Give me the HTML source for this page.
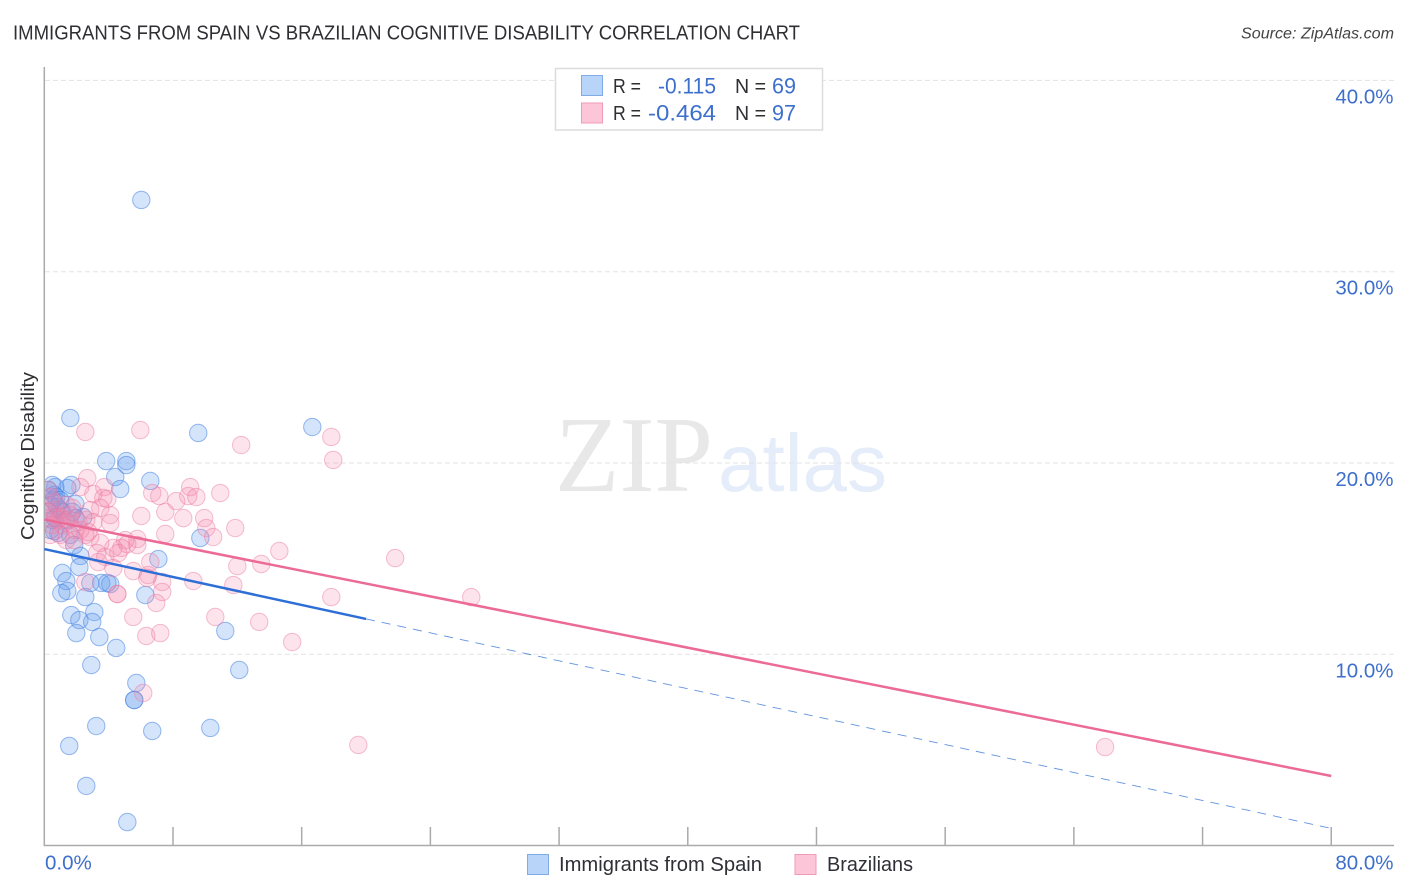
<!DOCTYPE html>
<html lang="en">
<head>
<meta charset="utf-8">
<title>Immigrants from Spain vs Brazilian Cognitive Disability Correlation Chart</title>
<style>
html,body{margin:0;padding:0;background:#fff;width:1406px;height:892px;overflow:hidden}
svg{display:block;font-family:"Liberation Sans",sans-serif}
</style>
</head>
<body>
<svg id="chart" xmlns="http://www.w3.org/2000/svg" width="1406" height="892" viewBox="0 0 1406 892">
  <defs>
    <clipPath id="plot-clip"><rect x="45" y="60" width="1349" height="785"/></clipPath>
  </defs>
  <g>
    <text x="555" y="491" font-family="'Liberation Serif',serif" font-size="108" fill="#e8e8e8" textLength="158" lengthAdjust="spacingAndGlyphs">ZIP</text>
    <text x="718" y="491" font-size="82" fill="#e4edf9" textLength="169" lengthAdjust="spacingAndGlyphs">atlas</text>
  </g>
  <g id="grid"></g>
  <g id="axes"></g>
  <g id="blue-points" clip-path="url(#plot-clip)"></g>
  <g id="pink-points" clip-path="url(#plot-clip)"></g>
  <g id="trends"></g>
  <g id="labels"></g>

  <text x="13" y="39.5" font-size="20" fill="#2f2f33" textLength="787" lengthAdjust="spacingAndGlyphs">IMMIGRANTS FROM SPAIN VS BRAZILIAN COGNITIVE DISABILITY CORRELATION CHART</text>
  <text x="1241" y="38.5" font-size="15.5" font-style="italic" fill="#444" textLength="153" lengthAdjust="spacingAndGlyphs">Source: ZipAtlas.com</text>
  <text transform="translate(34 540) rotate(-90)" font-size="18.5" fill="#2f2f33" textLength="168" lengthAdjust="spacingAndGlyphs">Cognitive Disability</text>

  <g>
    <rect x="555.5" y="68.5" width="267" height="61.5" fill="#fff" stroke="#dcdcdc" stroke-width="1.5"/>
    <rect x="581.5" y="75.5" width="21" height="20" fill="#b8d4f8" stroke="#7fabe6" stroke-width="1"/>
    <rect x="581.5" y="103" width="21" height="20" fill="#fdc6d8" stroke="#f09ab8" stroke-width="1"/>
    <g font-size="20" fill="#2f2f33">
      <text x="613" y="93" textLength="28" lengthAdjust="spacingAndGlyphs">R =</text>
      <text x="735" y="93" textLength="31" lengthAdjust="spacingAndGlyphs">N =</text>
      <text x="613" y="120" textLength="28" lengthAdjust="spacingAndGlyphs">R =</text>
      <text x="735" y="120" textLength="31" lengthAdjust="spacingAndGlyphs">N =</text>
    </g>
    <g font-size="22" fill="#3d6fcc">
      <text x="658" y="93.5" textLength="58" lengthAdjust="spacingAndGlyphs">-0.115</text>
      <text x="772" y="93.5" textLength="24" lengthAdjust="spacingAndGlyphs">69</text>
      <text x="648" y="120.5" textLength="68" lengthAdjust="spacingAndGlyphs">-0.464</text>
      <text x="772" y="120.5" textLength="24" lengthAdjust="spacingAndGlyphs">97</text>
    </g>
  </g>

  <g>
    <rect x="527.5" y="854.5" width="21" height="20" fill="#b8d4f8" stroke="#7fabe6" stroke-width="1"/>
    <text x="559" y="871" font-size="20" fill="#2f2f38" textLength="203" lengthAdjust="spacingAndGlyphs">Immigrants from Spain</text>
    <rect x="795" y="854.5" width="21" height="20" fill="#fdc6d8" stroke="#f09ab8" stroke-width="1"/>
    <text x="827" y="871" font-size="20" fill="#2f2f38" textLength="86" lengthAdjust="spacingAndGlyphs">Brazilians</text>
  </g>
</svg>
<script>
// Chart data (x = share of immigrants from Spain %, y = cognitive disability %)
const spainX = [6.03,1.62,9.57,16.66,3.85,5.10,5.10,4.41,4.72,6.59,9.70,7.09,1.68,1.43,1.93,2.42,0.68,0.50,0.62,0.75,0.81,0.99,1.12,0.56,0.37,0.50,0.87,1.62,1.93,1.74,1.31,0.37,0.62,1.86,2.24,2.18,1.12,1.37,1.43,1.06,2.55,2.86,3.54,4.10,3.92,6.28,1.68,2.18,3.11,2.98,1.99,3.42,4.47,2.92,5.72,5.59,5.59,3.23,6.71,10.32,1.55,2.61,5.16,11.25,12.12,0.99,0.25,0.25,0.68];
const spainY = [33.75,22.35,21.57,21.88,20.10,20.10,19.89,19.27,18.64,19.06,16.08,14.98,18.85,18.69,17.86,17.18,18.74,18.85,18.33,18.22,17.70,17.54,17.44,18.06,17.80,17.02,16.34,16.24,17.12,17.44,17.02,16.50,16.44,15.71,15.14,14.56,14.25,13.83,13.31,13.20,12.99,13.73,13.73,13.67,13.73,13.10,12.05,11.79,12.21,11.69,11.11,10.90,10.33,9.44,8.50,7.61,7.61,6.25,5.99,6.15,5.21,3.12,1.23,11.22,9.18,18.06,18.59,17.44,17.12];
const brazilX = [2.55,5.97,12.24,17.84,17.96,2.67,2.24,3.73,3.05,3.67,3.92,3.48,4.10,4.10,3.05,6.03,7.52,6.71,7.15,8.20,9.07,8.95,9.45,10.94,8.64,9.94,10.07,10.50,11.87,7.52,5.78,5.78,5.03,5.16,4.79,4.29,4.60,3.48,2.86,3.29,3.36,3.79,4.29,5.53,6.59,6.46,6.40,7.33,9.26,12.00,11.75,13.49,2.55,4.54,4.54,7.33,6.96,5.53,10.63,13.36,6.34,7.21,15.41,6.15,14.61,21.81,17.84,26.54,19.52,65.94,0.25,0.37,0.50,0.68,0.87,0.99,1.12,1.31,1.49,1.74,1.93,1.62,2.24,2.55,2.73,2.11,0.25,0.12,0.50,0.37,0.99,1.37,1.86,2.61,2.86,1.37,0.68];
const brazilY = [21.62,21.72,20.94,21.36,20.16,19.21,18.74,18.74,18.38,18.17,18.12,17.65,17.28,16.86,16.91,17.23,17.44,18.43,18.27,18.01,18.74,18.27,18.22,18.43,17.12,17.12,16.60,16.13,16.60,16.29,16.03,15.71,15.97,15.76,15.56,15.56,15.29,15.82,16.13,15.29,14.82,15.09,14.51,14.35,14.82,14.14,13.99,13.78,13.83,14.61,13.62,14.72,13.78,13.15,13.15,13.26,12.68,11.95,11.95,11.69,10.96,11.11,10.64,7.98,15.40,15.03,12.99,12.99,5.26,5.15,18.59,18.22,17.54,17.28,17.02,17.18,16.76,16.91,17.02,17.65,16.50,17.28,16.50,16.24,16.39,16.91,17.44,17.12,16.76,16.24,16.24,15.97,15.97,17.02,17.54,17.80,17.91];
const spainTrendX = [0,20,80];
const spainTrendY = [15.5,11.85,0.9];
const brazilTrendX = [0,80];
const brazilTrendY = [17.05,3.64];
const xTicks = [8,16,24,32,40,48,56,64,72,80];
const xTickLabels = ["0.0%","80.0%"];
const yTicks = [10,20,30,40];
const yTickLabels = ["10.0%","20.0%","30.0%","40.0%"];

const NS = 'http://www.w3.org/2000/svg';
const xScale = v => 44.3 + v * 16.087;
const yScale = v => 845.6 - v * 19.13;
const mk = (parent, tag, attrs) => {
  const el = document.createElementNS(NS, tag);
  for (const k in attrs) el.setAttribute(k, attrs[k]);
  parent.appendChild(el);
  return el;
};

const grid = document.getElementById('grid');
yTicks.forEach(v => {
  const line = mk(grid, 'line', {x1: 45, x2: 1394, y1: yScale(v), y2: yScale(v), stroke: '#e3e3e3', 'stroke-width': 1, 'stroke-dasharray': '5 3'});
  
  
});

const axes = document.getElementById('axes');
const yAxis = mk(axes, 'line', {x1: 44.3, x2: 44.3, y1: 67, y2: 846, stroke: '#aaaaaa', 'stroke-width': 1.5});


const xAxis = mk(axes, 'line', {x1: 44, x2: 1394, y1: 845.5, y2: 845.5, stroke: '#aaaaaa', 'stroke-width': 1.5});


xTicks.forEach(v => {
  const t = mk(axes, 'line', {x1: xScale(v), x2: xScale(v), y1: 827, y2: 845, stroke: '#aaaaaa', 'stroke-width': 1.5});
  
  
});

const bluePts = document.getElementById('blue-points');
spainX.forEach((v, i) => {
  const c = mk(bluePts, 'circle', {cx: xScale(v), cy: yScale(spainY[i]), r: 8.7, fill: 'rgba(95,155,235,0.27)', stroke: 'rgba(70,130,225,0.55)', 'stroke-width': 1});
  
  
});
const pinkPts = document.getElementById('pink-points');
brazilX.forEach((v, i) => {
  const c = mk(pinkPts, 'circle', {cx: xScale(v), cy: yScale(brazilY[i]), r: 8.7, fill: 'rgba(245,140,175,0.23)', stroke: 'rgba(235,120,160,0.48)', 'stroke-width': 1});
  
  
});

const trends = document.getElementById('trends');
const spainDash = mk(trends, 'line', {x1: xScale(spainTrendX[1]), y1: yScale(spainTrendY[1]), x2: xScale(spainTrendX[2]), y2: yScale(spainTrendY[2]), stroke: '#2d6fd6', 'stroke-width': 0.9, 'stroke-dasharray': '9 7', opacity: 0.75});


const spainSolid = mk(trends, 'line', {x1: xScale(spainTrendX[0]), y1: yScale(spainTrendY[0]), x2: xScale(spainTrendX[1]), y2: yScale(spainTrendY[1]), stroke: '#2d6fd6', 'stroke-width': 2.5});


const brazilLine = mk(trends, 'line', {x1: xScale(brazilTrendX[0]), y1: yScale(brazilTrendY[0]), x2: xScale(brazilTrendX[1]), y2: yScale(brazilTrendY[1]), stroke: '#ec6a96', 'stroke-width': 2.5});



const labels = document.getElementById('labels');
yTicks.forEach((v, i) => {
  const t = mk(labels, 'text', {x: 1393.5, y: yScale(v) + 23, 'text-anchor': 'end', 'font-size': 20.5, fill: '#3d6fcc'});
  
  
  t.textContent = yTickLabels[i];
});
const x0Label = mk(labels, 'text', {x: 45, y: 869.5, 'font-size': 20.5, fill: '#3d6fcc'});


x0Label.textContent = xTickLabels[0];
const x1Label = mk(labels, 'text', {x: 1393.5, y: 869.5, 'text-anchor': 'end', 'font-size': 20.5, fill: '#3d6fcc'});


x1Label.textContent = xTickLabels[1];
</script>
</body>
</html>
